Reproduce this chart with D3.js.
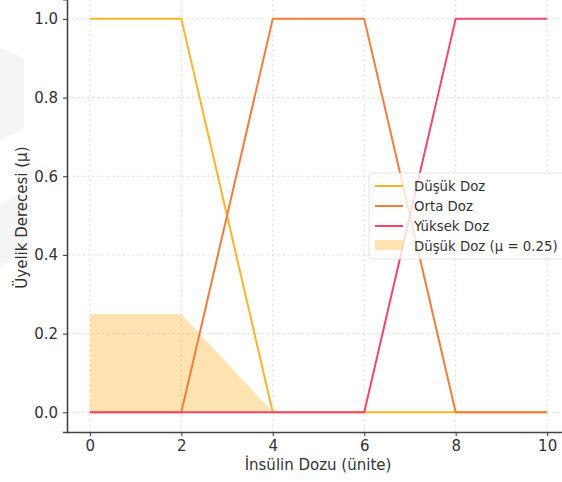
<!DOCTYPE html>
<html>
<head>
<meta charset="utf-8">
<script src="https://cdn.jsdelivr.net/npm/d3@7"></script>
<style>
  html, body { margin: 0; padding: 0; background: #fff; }
  svg { display: block; font-family: "DejaVu Sans", sans-serif; }
</style>
</head>
<body>
<svg id="chart" width="562" height="482"></svg>
<script>
// Insulin dose (units) breakpoints and membership degrees per fuzzy set
const doses      = [0, 2, 4, 6, 8, 10];
const lowDose    = [1, 1, 0, 0, 0, 0];
const midDose    = [0, 0, 1, 1, 0, 0];
const highDose   = [0, 0, 0, 0, 1, 1];
const firedMu    = 0.25;   // activation level of the low-dose rule
const xTicks     = [0, 2, 4, 6, 8, 10];
const yTicks     = [0.0, 0.2, 0.4, 0.6, 0.8, 1.0];
const seriesNames = ["Düşük Doz", "Orta Doz", "Yüksek Doz"];
const fillName   = "Düşük Doz (μ = 0.25)";
const xTitle     = "İnsülin Dozu (ünite)";
const yTitle     = "Üyelik Derecesi (μ)";

const colors = ["#FFB425", "#F77B3A", "#F5456A"];
const fillColor = "#FFA500";

const svg = d3.select("#chart");

// faint background emblem
const bg = svg.append("g").attr("fill", "#f5f5f5");
bg.append("path").attr("d", "M0,48 L24,58 L24,128 L0,140 Z");
bg.append("path").attr("d", "M0,205 L24,190 L24,250 L0,268 Z");

const x = d3.scaleLinear().domain([-0.5, 10.5]).range([67, 570]);
const y = d3.scaleLinear().domain([-0.05, 1.05]).range([432, -0.8]);

const plot = svg.append("g");

// grid
plot.append("g").selectAll("line").data(xTicks).join("line")
  .attr("x1", d => x(d)).attr("x2", d => x(d))
  .attr("y1", y(1.05)).attr("y2", y(-0.05))
  .attr("stroke", "#d6d6d6").attr("stroke-width", 0.8).attr("stroke-dasharray", "2.5,2.5");
plot.append("g").selectAll("line").data(yTicks).join("line")
  .attr("x1", x(-0.5)).attr("x2", x(10.5))
  .attr("y1", d => y(d)).attr("y2", d => y(d))
  .attr("stroke", "#d6d6d6").attr("stroke-width", 0.8).attr("stroke-dasharray", "2.5,2.5");

// activated low-dose area (scaled by firing strength)
const pts = doses.map((d, i) => ({ x: d, v: lowDose[i] * firedMu }));
plot.append("path")
  .datum(pts)
  .attr("d", d3.area().x(d => x(d.x)).y0(y(0)).y1(d => y(d.v)))
  .attr("fill", fillColor).attr("fill-opacity", 0.3);

// membership lines
const line = d3.line().x(d => x(d.x)).y(d => y(d.v));
[lowDose, midDose, highDose].forEach((s, k) => {
  plot.append("path")
    .datum(doses.map((d, i) => ({ x: d, v: s[i] })))
    .attr("d", line)
    .attr("fill", "none")
    .attr("stroke", colors[k])
    .attr("stroke-width", 2)
    .attr("stroke-linejoin", "round");
});

// axes
const xAxis = svg.append("g").attr("transform", `translate(0,${y(-0.05)})`)
  .call(d3.axisBottom(x).tickValues(xTicks).tickFormat(d3.format("d")).tickSize(4).tickPadding(4));
const yAxis = svg.append("g").attr("transform", `translate(${x(-0.5)},0)`)
  .call(d3.axisLeft(y).tickValues(yTicks).tickFormat(d3.format(".1f")).tickSize(4).tickPadding(5));
[xAxis, yAxis].forEach(a => {
  a.select(".domain").attr("stroke", "#444").attr("stroke-width", 1.6);
  a.selectAll(".tick line").attr("stroke", "#444").attr("stroke-width", 1.1);
  a.selectAll(".tick text").attr("fill", "#333").attr("font-size", 15)
    .attr("font-family", "DejaVu Sans, sans-serif");
});
xAxis.select(".domain").attr("d", `M${x(-0.5)},0.5H${x(10.5)}`);

// axis titles
svg.append("text").attr("x", 318).attr("y", 470)
  .attr("text-anchor", "middle").attr("font-size", 15).attr("fill", "#333")
  .text(xTitle);
svg.append("text")
  .attr("transform", `translate(27,${y(0.5) + 2}) rotate(-90)`)
  .attr("text-anchor", "middle").attr("font-size", 15).attr("fill", "#333")
  .text(yTitle);

// legend
const lg = svg.append("g").attr("transform", "translate(369,173)");
lg.append("rect").attr("x", 0).attr("y", 0).attr("width", 200).attr("height", 86)
  .attr("rx", 3).attr("fill", "#fff").attr("fill-opacity", 0.8)
  .attr("stroke", "#dcdcdc").attr("stroke-width", 0.8);
seriesNames.forEach((n, i) => {
  const yy = 13 + i * 20;
  lg.append("line").attr("x1", 6).attr("x2", 34).attr("y1", yy).attr("y2", yy)
    .attr("stroke", colors[i]).attr("stroke-width", 2);
  lg.append("text").attr("x", 45).attr("y", yy + 4.8).attr("font-size", 13.3)
    .attr("fill", "#333").text(n);
});
lg.append("rect").attr("x", 6).attr("y", 67).attr("width", 28).attr("height", 10)
  .attr("fill", fillColor).attr("fill-opacity", 0.3);
lg.append("text").attr("x", 45).attr("y", 77.8).attr("font-size", 13.3)
  .attr("fill", "#333").text(fillName);
</script>
</body>
</html>
